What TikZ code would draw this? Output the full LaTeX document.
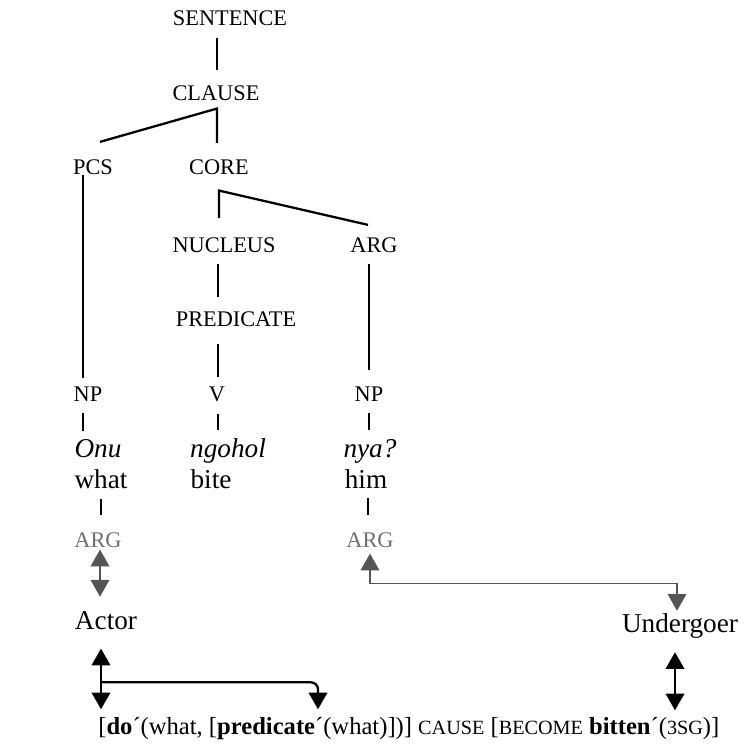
\documentclass[tikz,border=0pt]{standalone}
\usepackage{fontspec}
\setmainfont{Liberation Serif}
\usetikzlibrary{calc,arrows.meta}
\definecolor{arggray}{HTML}{6E6E6E}
\definecolor{linkgray}{HTML}{555555}
\newcommand{\smcap}[1]{{\fontsize{11.5}{12}\selectfont #1}}

\begin{document}
\begin{tikzpicture}[x=0.02cm,y=-0.02cm,
  >={Triangle[width=10.5pt,length=9.5pt]},
  cat/.style={inner sep=0pt,anchor=base,font=\fontsize{12.7}{14}\selectfont},
  word/.style={inner sep=0pt,anchor=base,font=\fontsize{15.5}{17}\selectfont},
  role/.style={cat,text=arggray},
  formula/.style={inner sep=0pt,anchor=base west,text height=11pt,text depth=3pt,font=\fontsize{14}{16}\selectfont},
  branch/.style={line width=1.3pt},
  link/.style={line width=1pt,draw=linkgray},
  mapping/.style={line width=1.3pt}]
\useasboundingbox (0,0) rectangle (744,744);
% tree
\node[cat] (sentence) at (230,25) {SENTENCE};
\node[cat] (clause) at (216,100) {CLAUSE};
\node[cat] (pcs) at (93,174) {PCS};
\node[cat] (core) at (219,174) {CORE};
\node[cat] (nucleus) at (224,252) {NUCLEUS};
\node[cat] (argcore) at (374,252) {ARG};
\node[cat] (predicate) at (236,326) {PREDICATE};
\node[cat] (npleft) at (88,401) {NP};
\node[cat] (verb) at (217,401) {V};
\node[cat] (npright) at (369,401) {NP};
\node[word] (onu) at (98,457) {\itshape Onu};
\node[word] (ngohol) at (228,457) {\itshape ngohol};
\node[word] (nyaq) at (370,457) {\itshape nya?};
\node[word] (what) at (101,488) {what};
\node[word] (bite) at (211,488) {bite};
\node[word] (him) at (366,488) {him};
\draw[branch] ($(sentence.south)+(-13,12)$) -- ($(clause.north)+(1,-15)$);
\draw[branch] ($(pcs.north)+(7,-17)$) -- ($(clause.south)+(1,8)$) -- ($(core.north)+(-2,-16)$);
\draw[branch] ($(pcs.south)+(-10,0)$) -- ($(npleft.north)+(-5,-8)$);
\draw[branch] ($(nucleus.north)+(-5,-19)$) -- ($(core.south)+(0,16)$) -- ($(argcore.north)+(-6,-12)$);
\draw[branch] ($(nucleus.south)+(-6,11)$) -- ($(predicate.north)+(-18,-14)$);
\draw[branch] ($(predicate.south)+(-18,17)$) -- ($(verb.north)+(1,-9)$);
\draw[branch] ($(argcore.south)+(-5,11)$) -- ($(npright.north)+(0,-16)$);
\draw[branch] ($(npleft.south)+(-5,12)$) -- ($(onu.north)+(-15,-8)$);
\draw[branch] ($(verb.south)+(1,12)$) -- ($(ngohol.north)+(-10,-8)$);
\draw[branch] ($(npright.south)+(0,12)$) -- ($(nyaq.north)+(-1,-9)$);
% macroroles
\node[role] (argactor) at (98,547) {ARG};
\node[role] (argundergoer) at (370,547) {ARG};
\node[word] (actor) at (106,629) {Actor};
\node[word] (undergoer) at (680,632) {Undergoer};
\draw[branch] ($(what.south)+(0,10)$) -- ($(argactor.north)+(3,-17)$);
\draw[branch] ($(him.south)+(2,10)$) -- ($(argundergoer.north)+(-2,-17)$);
\draw[link,<->] ($(argactor.south)+(2,2)$) -- ($(actor.north)+(-6,-14)$);
\draw[link,<->] ($(argundergoer.south)+(0,6)$) -- ++(0,30) -| ($(undergoer.north)+(-3,-2)$);
% logical structure
\node[formula] (formula) at (98,734) {[\textbf{do}´(what, [\textbf{predicate}´(what)])] \smcap{CAUSE} [\smcap{BECOME} \textbf{bitten}´(\smcap{3SG})]};
\draw[mapping,<->] ($(actor.south)+(-5,19)$) -- ($(formula.north west)+(3,-5)$);
\draw[mapping,->,rounded corners=4pt] ($(formula.north west)+(3,-32)$) -| ($(formula.north west)+(220,-5)$);
\draw[mapping,<->] ($(undergoer.south)+(-5,14)$) -- ($(formula.north west)+(577,-4)$);
\end{tikzpicture}
\end{document}
